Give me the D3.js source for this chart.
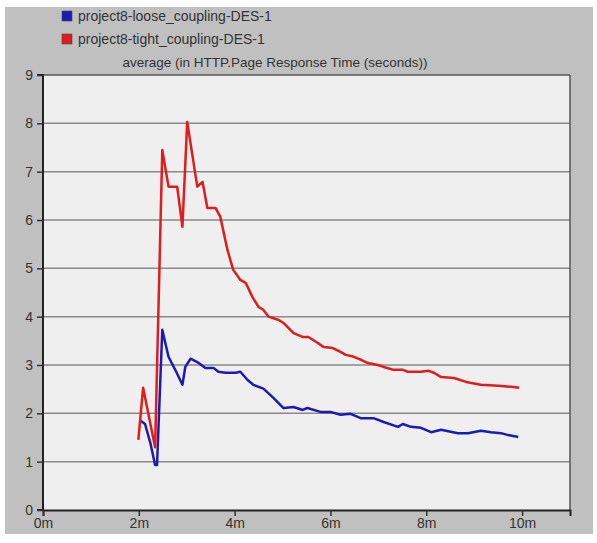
<!DOCTYPE html>
<html>
<head>
<meta charset="utf-8">
<script src="https://cdn.jsdelivr.net/npm/d3@7"></script>
<style>
  body { margin: 0; background: #fff; }
  text { font-family: Arial, "Liberation Sans", sans-serif; }
</style>
</head>
<body>
<div id="chart"></div>
<script>
// series names
var seriesNames = ['project8-loose_coupling-DES-1', 'project8-tight_coupling-DES-1'];
var seriesColors = ['#1c1cb4', '#e01c1c'];

// loose coupling: time (minutes) and value (seconds)
var looseTime = [2.03, 2.13, 2.24, 2.34, 2.38, 2.49, 2.62, 2.76, 2.91, 2.97, 3.08, 3.22, 3.39, 3.56, 3.66, 3.81,
  4.02, 4.12, 4.27, 4.39, 4.60, 4.81, 5.02, 5.23, 5.42, 5.52, 5.79, 6.00, 6.21, 6.42, 6.63, 6.90, 7.11, 7.41,
  7.51, 7.68, 7.89, 8.10, 8.31, 8.66, 8.87, 9.14, 9.35, 9.56, 9.71, 9.92];
var looseValue = [1.85, 1.78, 1.39, 0.93, 0.93, 3.73, 3.17, 2.90, 2.59, 2.96, 3.13, 3.06, 2.94, 2.94, 2.86, 2.84,
  2.84, 2.86, 2.69, 2.59, 2.51, 2.32, 2.11, 2.13, 2.07, 2.11, 2.03, 2.03, 1.97, 1.99, 1.90, 1.90, 1.82, 1.72,
  1.78, 1.72, 1.70, 1.61, 1.66, 1.59, 1.59, 1.64, 1.61, 1.59, 1.55, 1.51];

// tight coupling
var tightTime = [1.99, 2.09, 2.34, 2.49, 2.62, 2.80, 2.91, 3.01, 3.22, 3.33, 3.43, 3.60, 3.70, 3.85, 3.97, 4.12,
  4.23, 4.37, 4.50, 4.60, 4.71, 4.92, 5.02, 5.23, 5.42, 5.54, 5.73, 5.86, 6.05, 6.21, 6.32, 6.49, 6.63, 6.78,
  6.99, 7.11, 7.32, 7.51, 7.62, 7.89, 8.05, 8.16, 8.31, 8.58, 8.83, 9.14, 9.50, 9.77, 9.94];
var tightValue = [1.45, 2.53, 1.30, 7.45, 6.69, 6.69, 5.86, 8.03, 6.69, 6.79, 6.25, 6.25, 6.07, 5.38, 4.97, 4.76,
  4.70, 4.41, 4.20, 4.14, 4.00, 3.93, 3.87, 3.66, 3.58, 3.58, 3.46, 3.37, 3.35, 3.27, 3.21, 3.17, 3.11, 3.04,
  3.00, 2.96, 2.90, 2.90, 2.86, 2.86, 2.88, 2.84, 2.75, 2.73, 2.65, 2.59, 2.57, 2.55, 2.53];

var xTicks = [0, 2, 4, 6, 8, 10];
var yTicks = [0, 1, 2, 3, 4, 5, 6, 7, 8, 9];
var title = 'average (in HTTP.Page Response Time (seconds))';

var W = 597, H = 543;
var plot = { left: 43, right: 570, top: 75, bottom: 510 };

var svg = d3.select('#chart').append('svg')
  .attr('width', W)
  .attr('height', H);

// grey panel
svg.append('rect')
  .attr('x', 5).attr('y', 7)
  .attr('width', 588).attr('height', 527)
  .attr('fill', '#c0c0c0');

// plot background
svg.append('rect')
  .attr('x', plot.left).attr('y', plot.top)
  .attr('width', plot.right - plot.left).attr('height', plot.bottom - plot.top)
  .attr('fill', '#efefef');

var x = d3.scaleLinear().domain([0, 11]).range([plot.left, plot.right]);
var y = d3.scaleLinear().domain([0, 9]).range([plot.bottom, plot.top]);

// horizontal grid
svg.append('g')
  .selectAll('line')
  .data(yTicks.slice(1, -1))
  .enter().append('line')
  .attr('x1', plot.left).attr('x2', plot.right)
  .attr('y1', function(d) { return y(d); })
  .attr('y2', function(d) { return y(d); })
  .attr('stroke', '#8a8a8a')
  .attr('stroke-width', 1.5);

// frame
svg.append('line').attr('x1', plot.left).attr('x2', plot.right)
  .attr('y1', plot.top).attr('y2', plot.top)
  .attr('stroke', '#555').attr('stroke-width', 1.5);
svg.append('line').attr('x1', plot.right).attr('x2', plot.right)
  .attr('y1', plot.top).attr('y2', plot.bottom)
  .attr('stroke', '#555').attr('stroke-width', 1.5);

// axes
var yAxis = d3.axisLeft(y).tickValues(yTicks).tickSize(6).tickPadding(4).tickFormat(d3.format('d'));
var xAxis = d3.axisBottom(x).tickValues(xTicks).tickSize(6).tickPadding(2)
  .tickFormat(function(d) { return d + 'm'; });

var gy = svg.append('g').attr('transform', 'translate(' + plot.left + ',0)').call(yAxis);
var gx = svg.append('g').attr('transform', 'translate(0,' + plot.bottom + ')').call(xAxis);

[gx, gy].forEach(function(g) {
  g.select('.domain').attr('stroke', '#222').attr('stroke-width', 2);
  g.selectAll('.tick line').attr('stroke', '#333').attr('stroke-width', 1.5);
  g.selectAll('.tick text')
    .attr('fill', '#333')
    .style('font-size', '14px')
    .style('font-family', 'Arial, "Liberation Sans", sans-serif');
});
gy.select('.domain').attr('d', 'M-6,' + plot.top + 'H0V' + plot.bottom + 'H-6');

// title
svg.append('text')
  .attr('x', 275).attr('y', 67)
  .attr('text-anchor', 'middle')
  .attr('fill', '#333')
  .style('font-size', '13.5px')
  .text(title);

// legend
var legend = svg.append('g').selectAll('g')
  .data(seriesNames)
  .enter().append('g')
  .attr('transform', function(d, i) { return 'translate(62,' + (11 + i * 23) + ')'; });
legend.append('rect')
  .attr('width', 10).attr('height', 10)
  .attr('fill', function(d, i) { return seriesColors[i]; })
  .attr('stroke', '#444').attr('stroke-width', 0.6);
legend.append('text')
  .attr('x', 16).attr('y', 10)
  .attr('fill', '#333')
  .style('font-size', '14px')
  .text(function(d) { return d; });

// lines
var line = d3.line()
  .x(function(d) { return x(d[0]); })
  .y(function(d) { return y(d[1]); });

var series = [
  d3.zip(looseTime, looseValue),
  d3.zip(tightTime, tightValue)
];

svg.append('g')
  .selectAll('path')
  .data(series)
  .enter().append('path')
  .attr('d', line)
  .attr('fill', 'none')
  .attr('stroke', function(d, i) { return seriesColors[i]; })
  .attr('stroke-width', 2.5)
  .attr('stroke-linejoin', 'round');
</script>
</body>
</html>
